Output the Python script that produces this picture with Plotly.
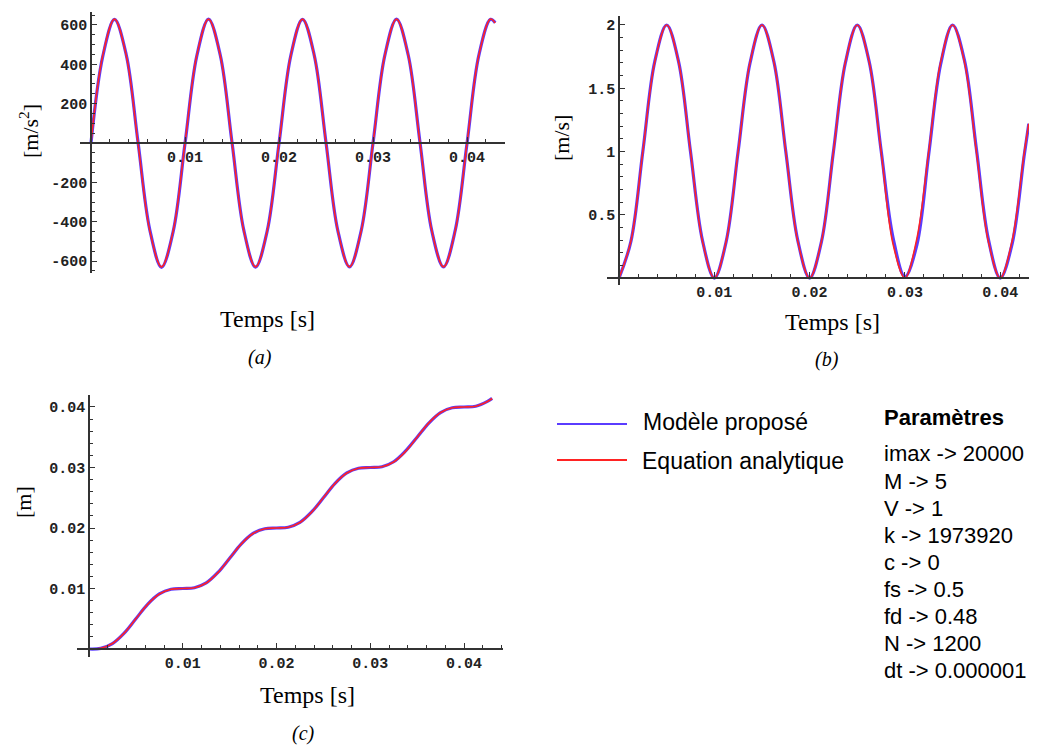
import plotly.graph_objects as go

# ---------------- data ----------------
temps = [0, 0.00125, 0.0025, 0.00375, 0.005, 0.00625, 0.0075, 0.00875,
         0.01, 0.01125, 0.0125, 0.01375, 0.015, 0.01625, 0.0175, 0.01875,
         0.02, 0.02125, 0.0225, 0.02375, 0.025, 0.02625, 0.0275, 0.02875,
         0.03, 0.03125, 0.0325, 0.03375, 0.035, 0.03625, 0.0375, 0.03875,
         0.04, 0.04125, 0.0425, 0.043]

acc_modele = [0, 440, 628, 448, 5, -440, -632, -448, -3, 442, 630, 447, 3, -442, -631, -446,
              -2, 443, 629, 446, 2, -444, -630, -444, 0, 444, 630, 446, 2, -446, -630, -443,
              -2, 444, 629, 612]
acc_analytique = [0, 445, 630, 445, 0, -445, -630, -445, 0, 445, 630, 445, 0, -445, -630, -445,
                  0, 445, 630, 445, 0, -445, -630, -445, 0, 445, 630, 445, 0, -445, -630, -445,
                  0, 445, 630, 610]

vit_modele = [0, 0.29, 1.0, 1.71, 2.0, 1.71, 1.0, 0.30, 0.0, 0.29, 1.0, 1.70, 2.0, 1.71, 1.0, 0.30,
              0.0, 0.29, 1.0, 1.70, 2.0, 1.71, 1.01, 0.32, 0.01, 0.26, 0.98, 1.69, 2.0, 1.72, 1.02, 0.31,
              0.0, 0.27, 0.96, 1.22]
vit_analytique = [0, 0.293, 1.0, 1.707, 2.0, 1.707, 1.0, 0.293, 0.0, 0.293, 1.0, 1.707, 2.0, 1.707, 1.0, 0.293,
                  0.0, 0.293, 1.0, 1.707, 2.0, 1.707, 1.0, 0.27, 0.0, 0.31, 1.0, 1.707, 2.0, 1.707, 1.0, 0.293,
                  0.0, 0.293, 0.98, 1.22]

pos_modele = [0, 0.00010, 0.00089, 0.00262, 0.00500, 0.00738, 0.00910, 0.00988,
              0.01000, 0.01013, 0.01092, 0.01265, 0.01500, 0.01738, 0.01910, 0.01988,
              0.02000, 0.02013, 0.02092, 0.02265, 0.02500, 0.02738, 0.02910, 0.02988,
              0.03000, 0.03013, 0.03095, 0.03270, 0.03500, 0.03735, 0.03908, 0.03987,
              0.04000, 0.04013, 0.04092, 0.04142]
pos_analytique = [0, 0.000125, 0.000909, 0.002625, 0.005, 0.007375, 0.009091, 0.009875,
                  0.01, 0.010125, 0.010909, 0.012625, 0.015, 0.017375, 0.019091, 0.019875,
                  0.02, 0.020125, 0.020909, 0.022625, 0.025, 0.027375, 0.029091, 0.029875,
                  0.03, 0.030125, 0.030909, 0.032625, 0.035, 0.037375, 0.039091, 0.039875,
                  0.04, 0.040125, 0.040909, 0.0414]

x_ticks = [0.01, 0.02, 0.03, 0.04]
x_ticktext = ["0.01", "0.02", "0.03", "0.04"]
acc_ticks = [-600, -400, -200, 200, 400, 600]
vit_ticks = [0.5, 1, 1.5, 2]
vit_ticktext = ["0.5", "1", "1.5", "2"]
pos_ticks = [0.01, 0.02, 0.03, 0.04]
pos_ticktext = ["0.01", "0.02", "0.03", "0.04"]

legend_labels = ["Modèle proposé", "Equation analytique"]
param_title = "Paramètres"
param_lines = ["imax -> 20000", "M -> 5", "V -> 1", "k -> 1973920", "c -> 0",
               "fs -> 0.5", "fd -> 0.48", "N -> 1200", "dt -> 0.000001"]

# ---------------- figure ----------------
# the page body has an 8 px margin, so the figure is drawn 8 px in from the corner
OFF = 8
W, H = 1037 - OFF, 746 - OFF
BLUE = "rgb(90,60,255)"
RED = "rgb(255,35,35)"

def px(x):
    return (x - OFF) / W

def py(y):
    return 1 - (y - OFF) / H

fig = go.Figure()

panels = [
    ("x", "y", acc_modele, acc_analytique),
    ("x2", "y2", vit_modele, vit_analytique),
    ("x3", "y3", pos_modele, pos_analytique),
]
for xa, ya, blue, red in panels:
    fig.add_trace(go.Scatter(x=temps, y=blue, mode="lines", xaxis=xa, yaxis=ya,
                             line=dict(color=BLUE, width=3.2, shape="spline", smoothing=1.0),
                             name=legend_labels[0], showlegend=False))
    fig.add_trace(go.Scatter(x=temps, y=red, mode="lines", xaxis=xa, yaxis=ya,
                             line=dict(color=RED, width=1.6, shape="spline", smoothing=1.0),
                             name=legend_labels[1], showlegend=False))

tickfont = dict(family="Liberation Mono", size=15, color="#222", weight="bold")

def xaxis(domain, rng, pos, minor_dtick):
    return dict(domain=domain, range=rng, anchor="free", position=pos,
                showgrid=False, zeroline=False, showline=True, linecolor="#333", linewidth=1.5,
                ticks="inside", ticklen=5, tickwidth=1.2, tickcolor="#333",
                tickvals=x_ticks, ticktext=x_ticktext, tickfont=tickfont,
                minor=dict(ticks="inside", ticklen=3, tickwidth=1, tickcolor="#333",
                           dtick=minor_dtick, tick0=0, showgrid=False))

def yaxis(domain, rng, pos, tv, tt, minor_dtick):
    return dict(domain=domain, range=rng, anchor="free", position=pos,
                showgrid=False, zeroline=False, showline=True, linecolor="#333", linewidth=1.5,
                ticks="inside", ticklen=5, tickwidth=1.2, tickcolor="#333",
                tickvals=tv, ticktext=tt, tickfont=tickfont,
                minor=dict(ticks="inside", ticklen=3, tickwidth=1, tickcolor="#333",
                           dtick=minor_dtick, tick0=0, showgrid=False))

fig.update_layout(
    width=W, height=H, autosize=False,
    margin=dict(l=0, r=0, t=0, b=0),
    paper_bgcolor="white", plot_bgcolor="white",
    showlegend=False,
    # (a)
    xaxis=xaxis([px(80), px(505)], [-0.00117, 0.04404], py(143), 0.002),
    yaxis=yaxis([py(273), py(12)], [-661, 666], px(91), acc_ticks,
                [str(v) for v in acc_ticks], 50),
    # (b)
    xaxis2=xaxis([px(607), 1.0], [-0.00126, 0.04386], py(278), 0.002),
    yaxis2=yaxis([py(285), py(16)], [-0.055, 2.071], px(619), vit_ticks, vit_ticktext, 0.1),
    # (c)
    xaxis3=xaxis([px(77), px(503)], [-0.00128, 0.04416], py(649), 0.002),
    yaxis3=yaxis([py(657), py(395)], [-0.00132, 0.04198], px(89), pos_ticks,
                 pos_ticktext, 0.002),
)

serif = "Liberation Serif"
sans = "Liberation Sans"
ann = []

def add_text(text, x, y, size, family, xanchor="center", angle=0, italic=False, bold=False):
    ann.append(dict(text=text, x=px(x), y=py(y), xref="paper", yref="paper",
                    xanchor=xanchor, yanchor="middle", showarrow=False, textangle=angle,
                    font=dict(family=family, size=size, color="black",
                              style="italic" if italic else "normal",
                              weight="bold" if bold else "normal")))

# axis titles
add_text("Temps [s]", 267, 319, 24, serif)
add_text("Temps [s]", 832, 322, 24, serif)
add_text("Temps [s]", 307, 695, 24, serif)
add_text("[m/s<sup>2</sup>]", 29, 131, 22, serif, angle=-90)
add_text("[m/s]", 562, 138, 22, serif, angle=-90)
add_text("[m]", 23, 502, 22, serif, angle=-90)
# panel letters
add_text("(a)", 260, 357, 20, serif, italic=True)
add_text("(b)", 827, 360, 20, serif, italic=True)
add_text("(c)", 303, 733, 20, serif, italic=True)

# legend
add_text(legend_labels[0], 641, 422, 23, sans, xanchor="left")
add_text(legend_labels[1], 640, 461, 23, sans, xanchor="left")
shapes = [
    dict(type="line", xref="paper", yref="paper", x0=px(557), x1=px(627), y0=py(424), y1=py(424),
         line=dict(color=BLUE, width=2)),
    dict(type="line", xref="paper", yref="paper", x0=px(557), x1=px(627), y0=py(460), y1=py(460),
         line=dict(color=RED, width=2)),
]

# parameters
add_text(param_title, 882, 417, 22, sans, xanchor="left", bold=True)
for i, line in enumerate(param_lines):
    add_text(line, 882, 454 + i * 27, 22, sans, xanchor="left")

fig.update_layout(annotations=ann, shapes=shapes)
fig.write_html("out.html")
